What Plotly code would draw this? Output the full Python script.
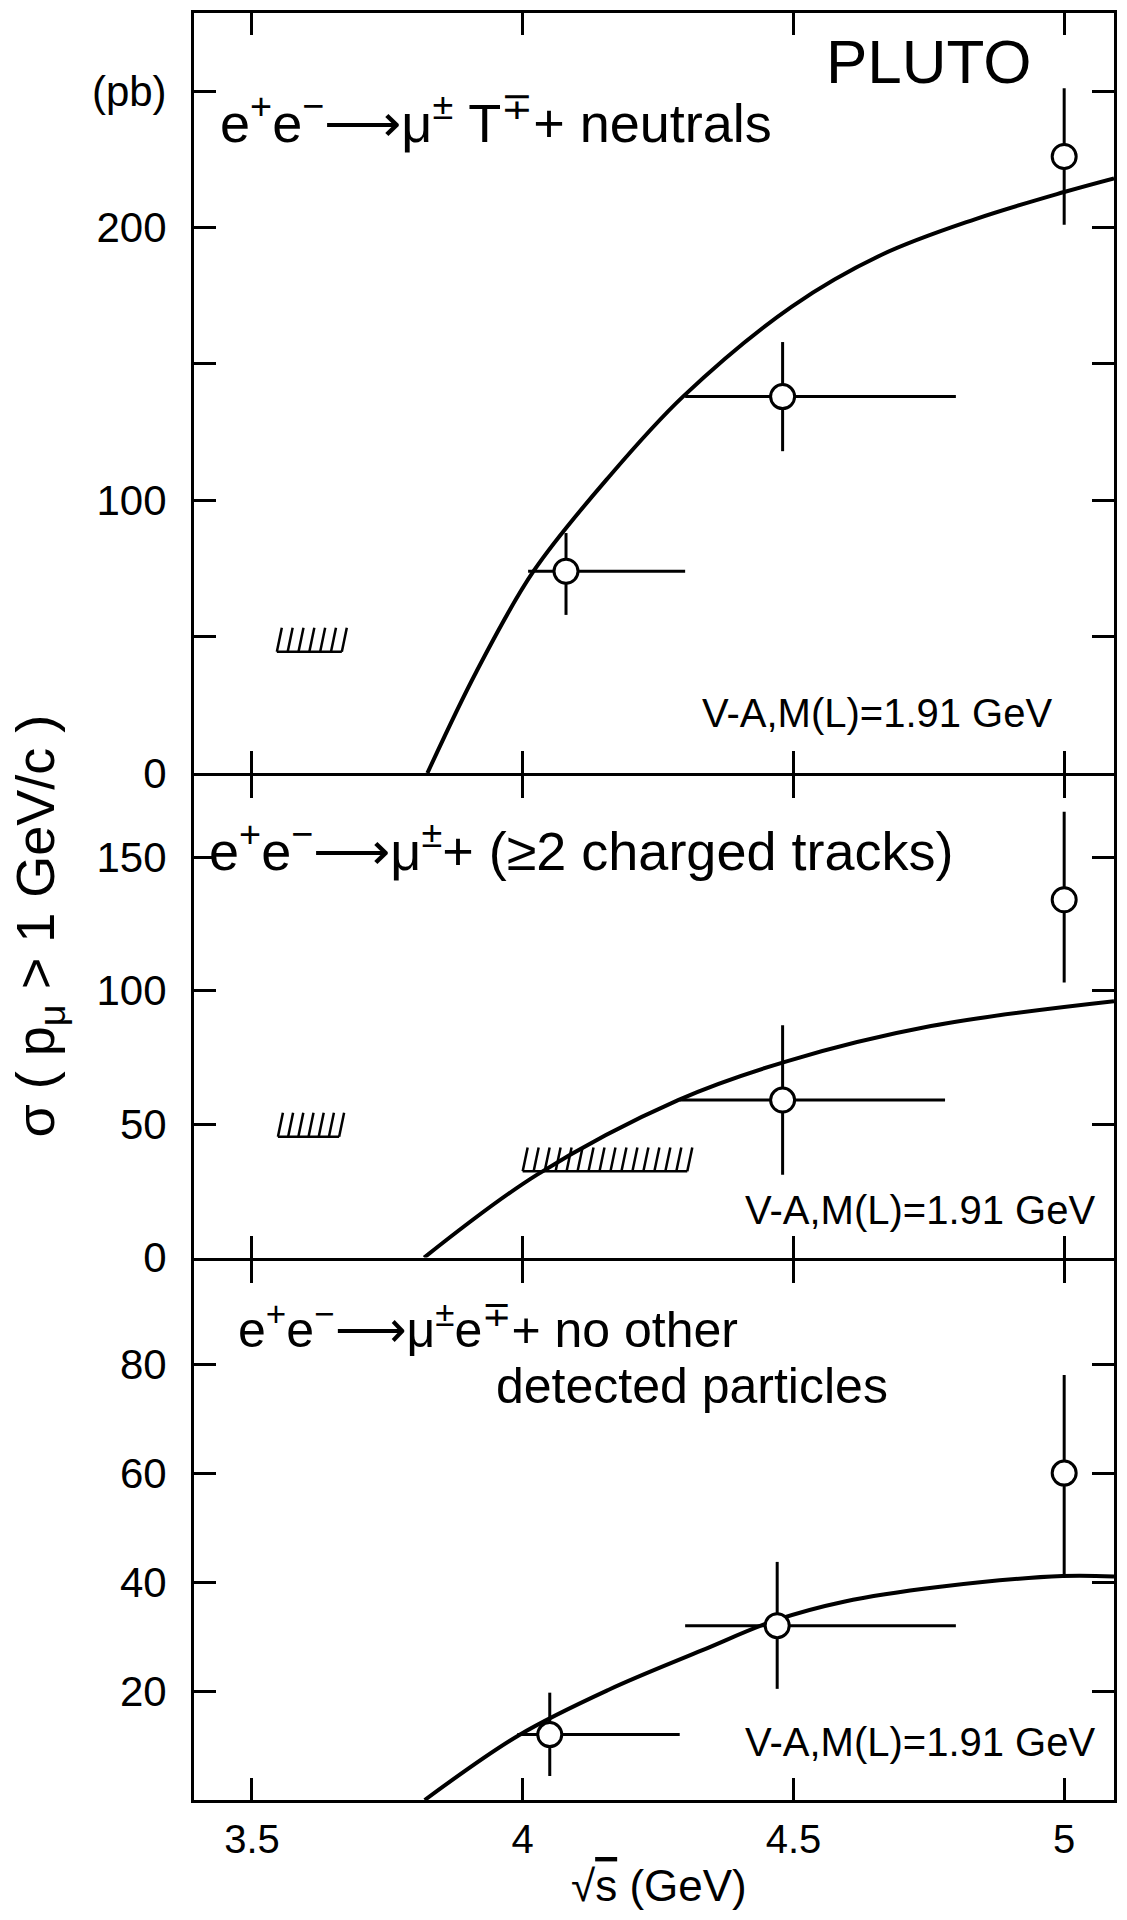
import plotly.graph_objects as go

# ---------------- data ----------------
x_tick_vals = [3.5, 4.0, 4.5, 5.0]
x_tick_text = ["3.5", "4", "4.5", "5"]

# Panel 1: e+e- -> mu T + neutrals
p1_x = [4.08, 4.48, 5.00]
p1_y = [74, 138, 226]
p1_err_up = [14, 20, 25]
p1_err_dn = [16, 20, 25]
p1_x_lo = [4.01, 4.30, 5.00]
p1_x_hi = [4.30, 4.80, 5.00]
p1_curve_x = [3.824, 3.914, 4.020, 4.161, 4.296, 4.497, 4.663, 4.835, 5.000, 5.092]
p1_curve_y = [0, 37, 74, 109, 138, 171, 190, 203, 213, 218]
p1_hatch_x0 = [3.546]
p1_hatch_x1 = [3.666]
p1_hatch_y = [44.5]
p1_ytick_vals = [0, 100, 200, 250]
p1_ytick_text = ["0", "100", "200", "(pb)"]
p1_minor_ticks = [50, 150]

# Panel 2: e+e- -> mu + (>=2 charged tracks)
p2_x = [4.48, 5.00]
p2_y = [59, 134]
p2_err_up = [28, 33]
p2_err_dn = [28, 31]
p2_x_lo = [4.29, 5.00]
p2_x_hi = [4.78, 5.00]
p2_curve_x = [3.818, 4.026, 4.287, 4.489, 4.754, 5.092]
p2_curve_y = [0, 31, 59, 73.6, 86.7, 96]
p2_hatch_x0 = [3.548, 4.000]
p2_hatch_x1 = [3.661, 4.304]
p2_hatch_y = [45.3, 32.3]
p2_ytick_vals = [0, 50, 100, 150]
p2_ytick_text = ["0", "50", "100", "150"]

# Panel 3: e+e- -> mu e + no other detected particles
p3_x = [4.05, 4.47, 5.00]
p3_y = [12, 32, 60]
p3_err_up = [7.7, 11.7, 18]
p3_err_dn = [7.6, 11.6, 19]
p3_x_lo = [3.99, 4.30, 5.00]
p3_x_hi = [4.29, 4.80, 5.00]
p3_curve_x = [3.819, 3.993, 4.158, 4.332, 4.467, 4.593, 4.767, 4.997, 5.092]
p3_curve_y = [0, 11.9, 20.2, 27.5, 33.0, 36.4, 39.1, 41.1, 41.0]
p3_ytick_vals = [20, 40, 60, 80]
p3_ytick_text = ["20", "40", "60", "80"]

label_1 = "e<sup>+</sup>e<sup>\u2212</sup>\u27f6\u03bc<sup>\u00b1</sup> T<sup>\u2213</sup>+ neutrals"
label_2 = "e<sup>+</sup>e<sup>\u2212</sup>\u27f6\u03bc<sup>\u00b1</sup>+ (\u22652 charged tracks)"
label_3a = "e<sup>+</sup>e<sup>\u2212</sup>\u27f6\u03bc<sup>\u00b1</sup>e<sup>\u2213</sup>+ no other"
label_3b = "detected particles"
model_label = "V-A,M(L)=1.91 GeV"
y_title = "\u03c3 ( p<sub>\u03bc</sub> > 1 GeV/c )"
x_title = "\u221a<span style='text-decoration:overline'>s</span> (GeV)"

# ---------------- geometry / style ----------------
W, H = 1127, 1920
ML, MR, MT, MB = 194, 10, 11, 120
PW = W - ML - MR
PH = H - MT - MB
XR = [3.393, 5.092]
B12, B23 = 772, 1257            # pixel rows of panel boundaries
BOTTOM = H - MB
LW = 3


def py(Y):
    return (BOTTOM - Y) / PH


def px(X):
    return (X - ML) / PW


# lower panels start LW px lower so the shared frame lines coincide
dom1 = [py(B12), 1.0]
dom2 = [py(B23), py(B12 + LW)]
dom3 = [0.0, py(B23 + LW)]
YR1 = [0, 278.6]
YR2 = [0, 180.3]
YR3 = [0, 99.0]

FONT = "Liberation Sans, Arial, sans-serif"
BLACK = "black"


def px_per_unit(dom, yr):
    return (dom[1] - dom[0]) * PH / (yr[1] - yr[0])


x_per_px = (XR[1] - XR[0]) / PW


def hatch(x0s, x1s, ys, dom, yr):
    hh = 24 / px_per_unit(dom, yr)
    slant = 5 * x_per_px
    step = 11 * x_per_px
    xs, yv = [], []
    for a, b, y in zip(x0s, x1s, ys):
        xs += [a, b, None]
        yv += [y, y, None]
        n = max(2, round((b - a) / step))
        for k in range(n + 1):
            xi = a + (b - a) * k / n
            xs += [xi, xi + slant, None]
            yv += [y, y + hh, None]
    return xs, yv


fig = go.Figure()


def add_panel(xa, ya, cx, cy, x, y, up, dn, xlo, xhi, hx0=None, hx1=None, hy=None, dom=None, yr=None):
    fig.add_trace(go.Scatter(x=cx, y=cy, mode="lines", xaxis=xa, yaxis=ya,
                             line=dict(color=BLACK, width=4, shape="spline", smoothing=1.0),
                             showlegend=False, hoverinfo="skip"))
    if hx0:
        hxs, hys = hatch(hx0, hx1, hy, dom, yr)
        fig.add_trace(go.Scatter(x=hxs, y=hys, mode="lines", xaxis=xa, yaxis=ya,
                                 line=dict(color=BLACK, width=2.5), showlegend=False,
                                 hoverinfo="skip"))
    fig.add_trace(go.Scatter(
        x=x, y=y, mode="markers", xaxis=xa, yaxis=ya, showlegend=False,
        marker=dict(symbol="circle", size=24, color="white", line=dict(color=BLACK, width=3)),
        error_y=dict(type="data", symmetric=False, array=up, arrayminus=dn,
                     thickness=LW, width=0, color=BLACK),
        error_x=dict(type="data", symmetric=False,
                     array=[h - v for h, v in zip(xhi, x)],
                     arrayminus=[v - l for v, l in zip(x, xlo)],
                     thickness=LW, width=0, color=BLACK),
    ))


add_panel("x", "y", p1_curve_x, p1_curve_y, p1_x, p1_y, p1_err_up, p1_err_dn, p1_x_lo, p1_x_hi,
          p1_hatch_x0, p1_hatch_x1, p1_hatch_y, dom1, YR1)
add_panel("x2", "y2", p2_curve_x, p2_curve_y, p2_x, p2_y, p2_err_up, p2_err_dn, p2_x_lo, p2_x_hi,
          p2_hatch_x0, p2_hatch_x1, p2_hatch_y, dom2, YR2)
add_panel("x3", "y3", p3_curve_x, p3_curve_y, p3_x, p3_y, p3_err_up, p3_err_dn, p3_x_lo, p3_x_hi)

axis_common = dict(ticks="inside", ticklen=22, tickwidth=LW, tickcolor=BLACK,
                   showline=True, linewidth=LW, linecolor=BLACK, mirror="ticks",
                   showgrid=False, zeroline=False)

xcommon = dict(axis_common, range=XR, tickmode="array", tickvals=x_tick_vals, ticktext=x_tick_text)

ytick_font = dict(family=FONT, size=42, color=BLACK)

fig.update_layout(
    width=W, height=H,
    margin=dict(l=ML, r=MR, t=MT, b=MB, pad=0),
    paper_bgcolor="white", plot_bgcolor="white",
    font=dict(family=FONT, color=BLACK),
    xaxis=dict(xcommon, anchor="y", showticklabels=False),
    xaxis2=dict(xcommon, anchor="y2", showticklabels=False),
    xaxis3=dict(xcommon, anchor="y3", showticklabels=True,
                tickfont=dict(family=FONT, size=40, color=BLACK), ticklabelstandoff=2),
    yaxis=dict(axis_common, domain=dom1, range=YR1, anchor="x", tickmode="array",
               tickvals=p1_ytick_vals, ticktext=p1_ytick_text, tickfont=ytick_font,
               ticklabelstandoff=16,
               minor=dict(tickmode="array", tickvals=p1_minor_ticks, ticks="inside",
                          ticklen=22, tickwidth=LW, tickcolor=BLACK, showgrid=False)),
    yaxis2=dict(axis_common, domain=dom2, range=YR2, anchor="x2", tickmode="array",
                tickvals=p2_ytick_vals, ticktext=p2_ytick_text, tickfont=ytick_font,
                ticklabelstandoff=16),
    yaxis3=dict(axis_common, domain=dom3, range=YR3, anchor="x3", tickmode="array",
                tickvals=p3_ytick_vals, ticktext=p3_ytick_text, tickfont=ytick_font,
                ticklabelstandoff=16),
)


def note(text, X, Y, size, xanchor="left", angle=0):
    fig.add_annotation(text=text, x=px(X), y=py(Y), xref="paper", yref="paper",
                       xanchor=xanchor, yanchor="middle", showarrow=False, textangle=angle,
                       font=dict(family=FONT, size=size, color=BLACK))


note("PLUTO", 1037, 60, 62, "right")
note(label_1, 218, 117, 54)
note(model_label, 1057, 712, 40, "right")
note(label_2, 207, 846, 54)
note(model_label, 1100, 1209, 40, "right")
note(label_3a, 236, 1325, 50)
note(label_3b, 495, 1386, 50)
note(model_label, 1100, 1742, 40, "right")
note(y_title, 38, 925, 54, "center", -90)
note(x_title, 661, 1886, 44, "center")

fig.write_html("out.html")
